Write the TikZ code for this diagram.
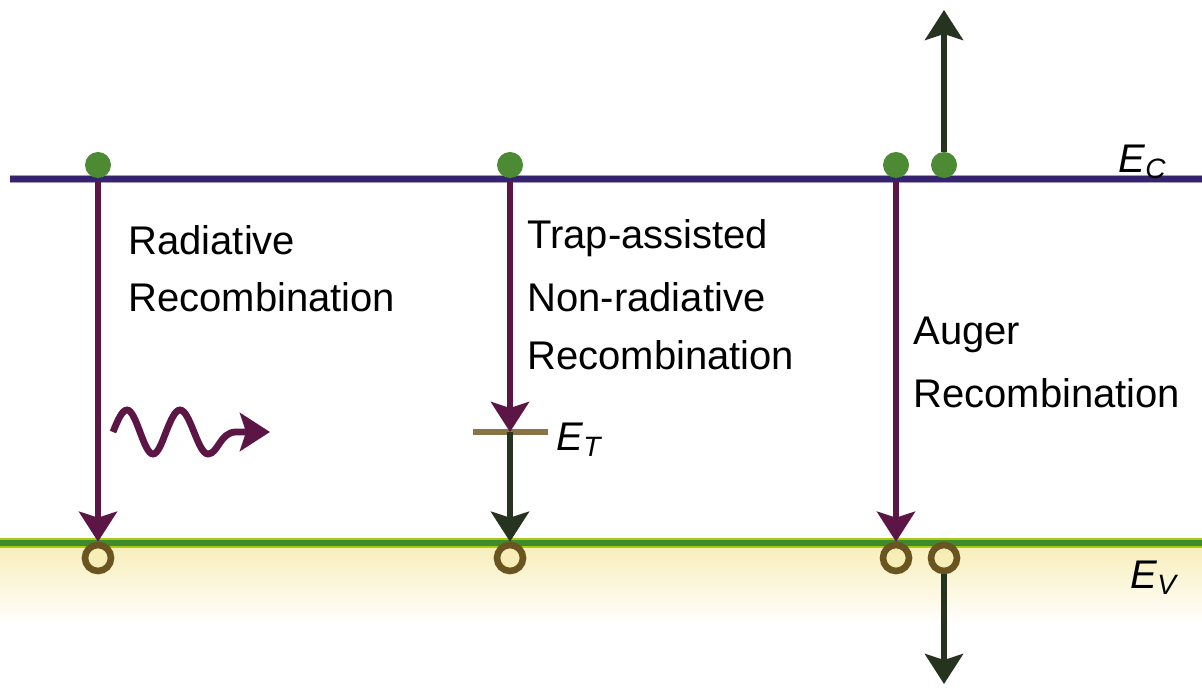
\documentclass[tikz,border=0pt]{standalone}
\usepackage{fontspec}
\setmainfont{Liberation Sans}
\usepackage{tikz}
\usetikzlibrary{arrows.meta}

\definecolor{bandC}{HTML}{35236F}
\definecolor{bandV}{HTML}{3F8A2D}
\definecolor{elec}{HTML}{4C8B34}
\definecolor{hole}{HTML}{6A5420}
\definecolor{recomb}{HTML}{5C1646}
\definecolor{darkarr}{HTML}{26331F}
\definecolor{traplvl}{HTML}{8A7345}
\definecolor{valfill}{HTML}{F7EDB6}

\begin{document}
\begin{tikzpicture}[x=0.5pt, y=-0.5pt,
  every node/.style={font=\fontsize{20}{24}\selectfont},
  electron/.style={circle, fill=elec, inner sep=0pt, minimum size=13pt},
  holept/.style={circle, draw=hole, line width=3.3pt, fill=valfill, inner sep=0pt, minimum size=13pt},
  recarrow/.style={recomb, line width=2.8pt, -{Stealth[length=15pt, width=19pt, inset=3pt]}},
  escarrow/.style={darkarr, line width=2.8pt, -{Stealth[length=15pt, width=19pt, inset=3pt]}},
  label/.style={anchor=west, inner sep=0pt}]
                    \useasboundingbox (0,0) rectangle (1202,688);
                    % Valence band shading
                    \fill[top color=valfill, bottom color=white] (0,540) rectangle (1202,625);

                    % Band edges
                    \draw[bandC!45, line width=4.4pt] (10,179) -- (1202,179);
                    \draw[bandC, line width=2.6pt] (10,179) -- (1202,179);
                    \draw[bandV!45!yellow, line width=4.6pt] (0,543) -- (1202,543);
                    \draw[bandV, line width=2.8pt] (0,543) -- (1202,543);
                    \node[label] (ec) at (1118,162) {\textit{E}\textsubscript{\textit{C}}};
                    \node[label] (ev) at (1130,578) {\textit{E}\textsubscript{\textit{V}}};

                    % Electrons
                    \node[electron] (e1) at (98,165) {};
                    \node[electron] (e2) at (510,165) {};
                    \node[electron] (e3) at (896,165) {};
                    \node[electron] (e4) at (944,165) {};

                    % Holes
                    \node[holept] (h1) at (98,558) {};
                    \node[holept] (h2) at (510,558) {};
                    \node[holept] (h3) at (896,558) {};
                    \node[holept] (h4) at (944,558) {};

                    % Trap level
                    \coordinate (t1) at (473,432);
                    \coordinate (t2) at (548,432);
                    \coordinate (tm) at (510,432);
                    \draw[traplvl, line width=3.4pt] (t1) -- (t2);
                    \node[label] (et) at (556,440) {\textit{E}\textsubscript{\textit{T}}};

                    % Radiative
                    \draw[recarrow] (98,181) -- (h1.north);
                    \coordinate (w0) at (113,432);
                    \coordinate (w1) at (270,432);
                    \draw[recomb, line width=3.4pt, -{Stealth[length=15pt, width=19pt, inset=3pt]}]
                      (w0) sin (127,410) cos (140,432) sin (153,454) cos (166,432)
                      sin (180,410) cos (194,432) sin (208,454)
                      .. controls (218,454) and (220,432) .. (236,432) -- (w1);
                    \node[label] (r1) at (128,240) {Radiative};
                    \node[label] (r2) at (128,297) {Recombination};

                    % Trap-assisted
                    \draw[recarrow] (510,181) -- (tm);
                    \draw[escarrow] (tm) -- (h2.north);
                    \node[label] (s1) at (527,238) {Trap-assisted};
                    \node[label] (s2) at (527,297) {Non-radiative};
                    \node[label] (s3) at (527,355) {Recombination};

                    % Auger
                    \draw[recarrow] (896,181) -- (h3.north);
                    \coordinate (up) at (944,10);
                    \coordinate (dn) at (944,684);
                    \draw[escarrow] (e4.north) -- (up);
                    \draw[escarrow] (h4.south) -- (dn);
                    \node[label] (a1) at (913,335) {Auger};
                    \node[label] (a2) at (913,393) {Recombination};
                \end{tikzpicture}
\end{document}
